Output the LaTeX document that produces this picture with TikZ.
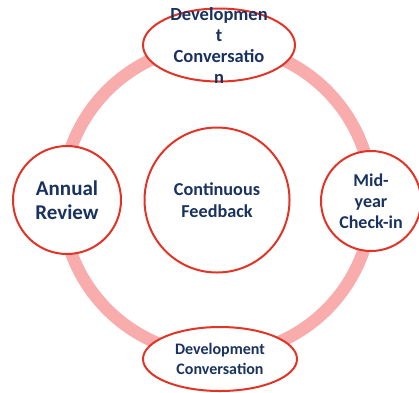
\documentclass[tikz,border=0pt]{standalone}
\usepackage{fontspec}
\setmainfont{Carlito}
\usetikzlibrary{shapes.geometric}
\definecolor{ringpink}{RGB}{248,172,172}
\definecolor{edgered}{RGB}{226,52,38}
\definecolor{navy}{RGB}{25,50,95}
\tikzset{
  stage/.style={circle, draw=edgered, line width=2pt, fill=white,
    text=navy, font=\bfseries, align=center, inner sep=0pt},
  talk/.style={ellipse, draw=edgered, line width=2pt, fill=white,
    text=navy, font=\bfseries, align=center, inner sep=0pt},
}
\begin{document}
\begin{tikzpicture}[x=1pt,y=-1pt]
  \useasboundingbox (0,0) rectangle (419,392);
  % cycle ring behind the stages
  \draw[ringpink, line width=12.5pt] (217,200) circle (155);
  % centre and four stages
  \node[stage, minimum size=145pt, font=\bfseries\fontsize{18.2}{22}\selectfont]
    (core) at (217,200) {Continuous\\Feedback};
  \node[talk, minimum width=152pt, minimum height=73pt] (top) at (219,45) {};
  \node[text=navy, font=\bfseries\fontsize{18.5}{21}\selectfont, align=center]
    (toptext) at (219,46) {Developmen\\t\\Conversatio\\n};
  \node[stage, minimum size=108pt, font=\bfseries\fontsize{21}{24.5}\selectfont]
    (annual) at (67,200) {Annual\\Review};
  \node[stage, minimum size=100pt, font=\bfseries\fontsize{18}{21}\selectfont]
    (mid) at (371,201) {Mid-\\year\\Check-in};
  \node[talk, minimum width=154pt, minimum height=64pt,
    font=\bfseries\fontsize{16}{20}\selectfont]
    (bottom) at (220,359) {Development\\Conversation};
\end{tikzpicture}
\end{document}
